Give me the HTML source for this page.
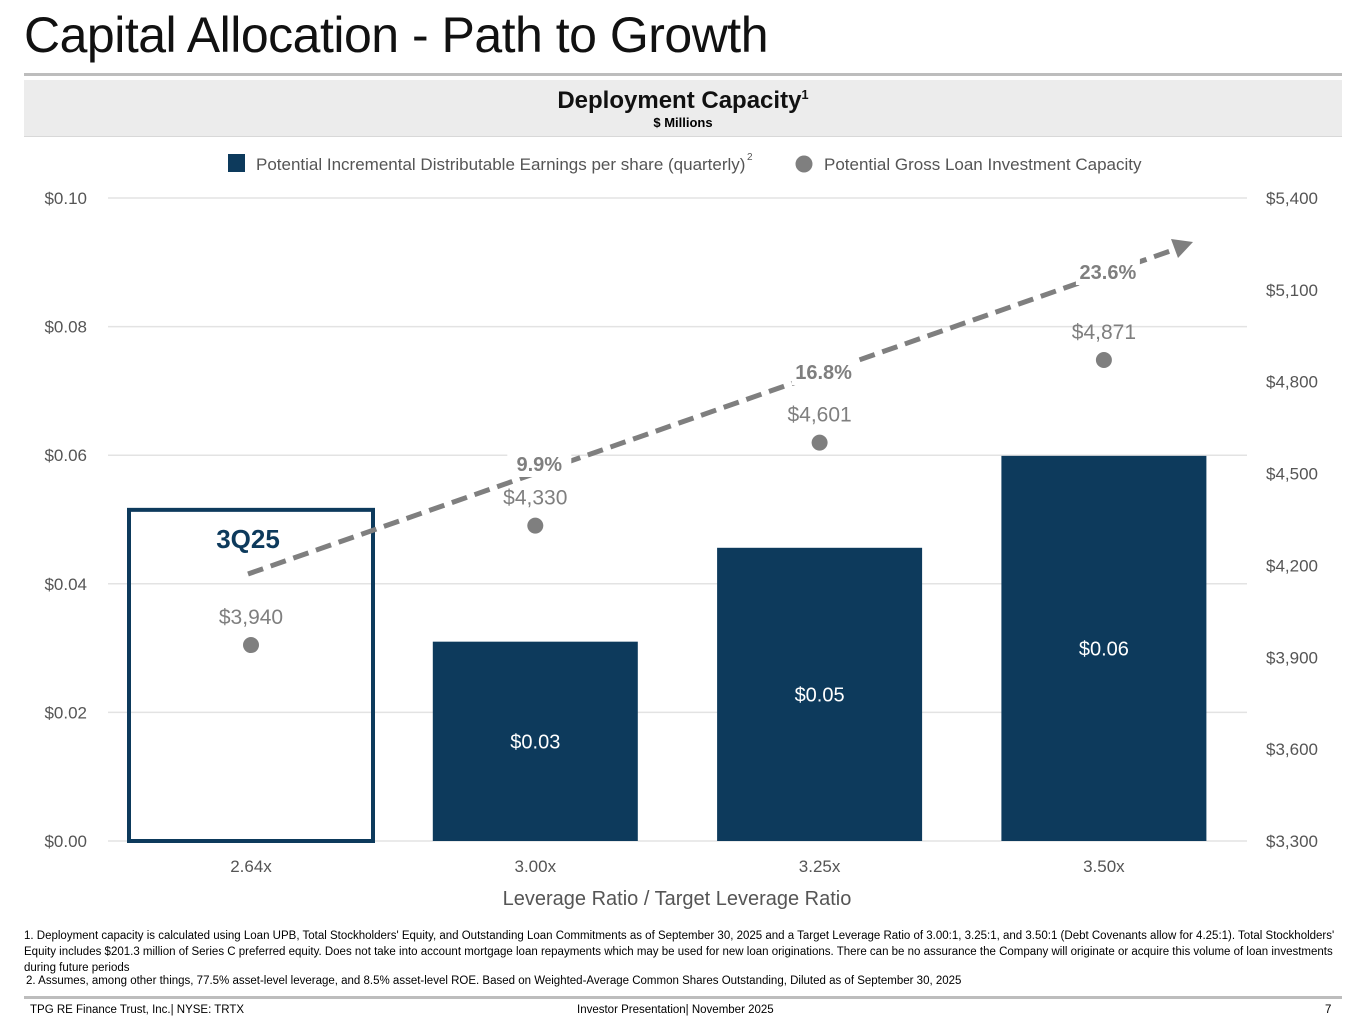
<!DOCTYPE html>
<html><head><meta charset="utf-8"><style>
body{margin:0;width:1365px;height:1024px;background:#fff;font-family:"Liberation Sans Narrow","Liberation Sans",sans-serif;overflow:hidden;position:relative}
.t{position:absolute;white-space:nowrap}
</style></head><body>
<div class="t" style="left:24px;top:6px;font-size:50px;color:#111;font-family:'Liberation Sans',sans-serif;letter-spacing:-0.5px">Capital Allocation - Path to Growth</div>
<div style="position:absolute;left:24px;top:73px;width:1318px;height:3px;background:#bdbdbd"></div>
<div style="position:absolute;left:24px;top:80px;width:1318px;height:56px;background:#ececec;border-bottom:1px solid #d8d8d8;text-align:center">
<div style="font-weight:bold;font-size:24px;line-height:28px;margin-top:1px;color:#111">Deployment Capacity<sup style="font-size:13px">1</sup></div>
<div style="font-weight:bold;font-size:13px;line-height:16px;margin-top:0px">$ Millions</div>
</div>
<svg id="c" width="1365" height="1024" style="position:absolute;left:0;top:0"></svg>
<div class="t" style="left:24px;top:928px;font-size:11.5px;line-height:16px;width:1320px;white-space:normal">1. Deployment capacity is calculated using Loan UPB, Total Stockholders' Equity, and Outstanding Loan Commitments as of September 30, 2025 and a Target Leverage Ratio of 3.00:1, 3.25:1, and 3.50:1 (Debt Covenants allow for 4.25:1). Total Stockholders' Equity includes $201.3 million of Series C preferred equity. Does not take into account mortgage loan repayments which may be used for new loan originations. There can be no assurance the Company will originate or acquire this volume of loan investments during future periods</div>
<div class="t" style="left:26px;top:975px;font-size:11.5px">2. Assumes, among other things, 77.5% asset-level leverage, and 8.5% asset-level ROE. Based on Weighted-Average Common Shares Outstanding, Diluted as of September 30, 2025</div>
<div style="position:absolute;left:24px;top:996px;width:1318px;height:3px;background:#bdbdbd"></div>
<div class="t" style="left:30px;top:1004px;font-size:11.5px">TPG RE Finance Trust, Inc.| NYSE: TRTX</div>
<div class="t" style="left:577px;top:1004px;font-size:11.5px">Investor Presentation| November 2025</div>
<div class="t" style="left:1325px;top:1004px;font-size:11.5px">7</div>
<script>
const categories=["2.64x","3.00x","3.25x","3.50x"];
const epsValues=[0.0515,0.031,0.0456,0.0599];
const epsLabels=["","$0.03","$0.05","$0.06"];
const capacityValues=[3940,4330,4601,4871];
const capacityLabels=["$3,940","$4,330","$4,601","$4,871"];
const growthLabels=["9.9%","16.8%","23.6%"];
const leftTicks=[0,0.02,0.04,0.06,0.08,0.10];
const rightTicks=[3300,3600,3900,4200,4500,4800,5100,5400];
const NS="http://www.w3.org/2000/svg",svg=document.getElementById('c');
const y0=841,y1=198;
const yL=v=>y0-(v/0.10)*(y0-y1);
const yR=v=>y0-((v-3300)/2100)*(y0-y1);
const xC=i=>251+i*284.3;
function mk(t,a,txt){const e=document.createElementNS(NS,t);for(const k in a)e.setAttribute(k,a[k]);if(txt!=null)e.textContent=txt;svg.appendChild(e);return e;}
const F="'Liberation Sans Narrow','Liberation Sans',sans-serif";
leftTicks.forEach(v=>{
 const g=mk('line',{x1:108,x2:1247,y1:yL(v),y2:yL(v),stroke:'#e3e3e3','stroke-width':1.5});
 
 
 const t=mk('text',{x:87,y:yL(v)+6,'text-anchor':'end','font-size':17,fill:'#555','font-family':F},'$'+v.toFixed(2));
 
 
});
rightTicks.forEach(v=>{
 const t=mk('text',{x:1266,y:yR(v)+6,'font-size':17,fill:'#555','font-family':F},'$'+v.toLocaleString('en-US'));
 
 
});
categories.forEach((c,i)=>{
 const x=xC(i),w=205,top=yL(epsValues[i]);
 let b;
 if(i===0) b=mk('rect',{x:x-122,y:top,width:244,height:y0-top,fill:'none',stroke:'#0d3a5c','stroke-width':4});
 else b=mk('rect',{x:x-w/2,y:top,width:w,height:y0-top,fill:'#0d3a5c'});
 
 
 if(epsLabels[i]){const l=mk('text',{x:x,y:(top+y0)/2+7,'text-anchor':'middle','font-size':20,fill:'#fff','font-family':F},epsLabels[i]);
 
 }
 const t=mk('text',{x:x,y:872,'text-anchor':'middle','font-size':17,fill:'#555','font-family':F},c);
 
 
 const d=mk('circle',{cx:x,cy:yR(capacityValues[i]),r:8,fill:'#7f7f7f'});
 
 
 const dl=mk('text',{x:x,y:yR(capacityValues[i])-21,'text-anchor':'middle','font-size':21,fill:'#7f7f7f','font-family':F},capacityLabels[i]);
 
 
});
const q=mk('text',{x:248,y:548,'text-anchor':'middle','font-size':26,'font-weight':'bold',fill:'#0d3a5c','font-family':F},'3Q25');


const ar=mk('line',{x1:248,y1:574,x2:1176,y2:249,stroke:'#7f7f7f','stroke-width':5,'stroke-dasharray':'16 8'});


const ah=mk('polygon',{points:'1193,242 1178,258 1171,239',fill:'#7f7f7f'});


growthLabels.forEach((g,i)=>{
 const x=xC(i+1)+4,y=[471,379,279][i];
 const r=mk('rect',{x:x-32,y:y-20,width:64,height:26,fill:'#fff'});
 
 
 const t=mk('text',{x:x,y:y,'text-anchor':'middle','font-size':20,'font-weight':'bold',fill:'#7f7f7f','font-family':F},g);
 
 
});
const xt=mk('text',{x:677,y:905,'text-anchor':'middle','font-size':20,fill:'#555','font-family':F},'Leverage Ratio / Target Leverage Ratio');


const ls=mk('rect',{x:228,y:154,width:17,height:18,fill:'#0d3a5c'});


const lt=mk('text',{x:256,y:170,'font-size':17,fill:'#555','font-family':F},'Potential Incremental Distributable Earnings per share (quarterly)');


const ls2=mk('text',{x:747,y:160,'font-size':10,fill:'#555','font-family':F},'2');


const lc=mk('circle',{cx:804,cy:164,r:8.5,fill:'#7f7f7f'});


const lt2=mk('text',{x:824,y:170,'font-size':17,fill:'#555','font-family':F},'Potential Gross Loan Investment Capacity');


</script>
</body></html>
